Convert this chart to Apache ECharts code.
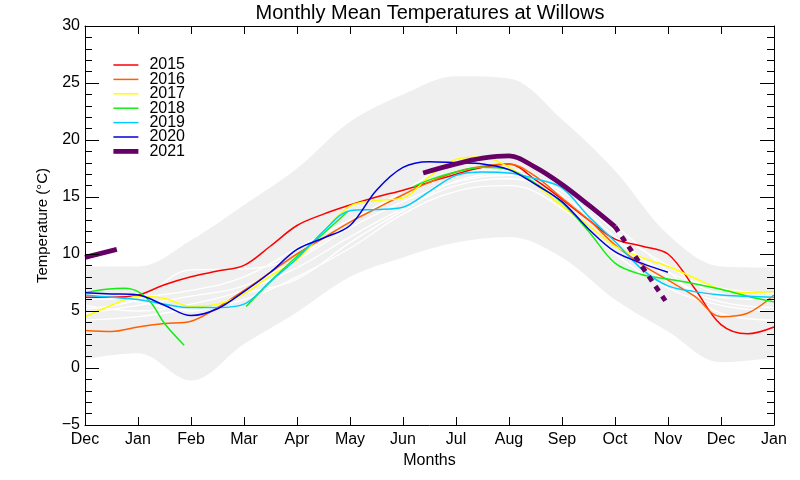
<!DOCTYPE html>
<html><head><meta charset="utf-8">
<script src="https://cdn.jsdelivr.net/npm/echarts@6/dist/echarts.min.js"></script>
<style>html,body{margin:0;padding:0;background:#fff}#c{width:800px;height:480px}</style>
</head><body><div id="c"></div>
<script>
// ---- data ----
const monthLabels = ['Dec','Jan','Feb','Mar','Apr','May','Jun','Jul','Aug','Sep','Oct','Nov','Dec','Jan'];
const tMonth = [0,1,2,3,4,5,6,7,8,9,10,11,12,13];
const tHalf = [0,0.5,1,1.5,2,2.5,3,3.5,4,4.5,5,5.5,6,6.5,7,7.5,8,8.5,9,9.5,10,10.5,11,11.5,12,12.5,13];
const yearNames = ['2015','2016','2017','2018','2019','2020','2021'];

const bandUpper = [8.9, 8.9, 11.2, 14.3, 17.5, 21.6, 24.0, 25.6, 25.4, 21.8, 17.3, 11.7, 8.9, 8.8];
const bandLower = [0.8, 1.3, -1.1, 2.1, 4.9, 8.0, 9.7, 11.0, 11.5, 9.7, 6.0, 3.2, 0.5, 0.9];

const white1 = [5.5, 5.0, 5.6, 6.8, 8.8, 11.5, 14.0, 16.0, 16.6, 14.8, 10.8, 7.6, 5.8, 5.3];
const white2 = [4.8, 5.5, 6.3, 7.2, 9.5, 12.3, 14.6, 16.3, 16.9, 15.5, 11.5, 8.0, 6.2, 6.0];
const white3 = [6.0, 6.2, 6.8, 8.0, 10.5, 13.0, 15.2, 17.0, 17.4, 15.2, 11.2, 8.4, 7.0, 6.5];
const white4 = [4.2, 4.5, 5.2, 6.0, 8.0, 10.5, 13.5, 15.5, 16.0, 14.0, 10.0, 7.0, 5.5, 5.0];
const white5 = [5.2, 6.0, 8.6, 8.7, 9.8, 12.8, 15.5, 18.0, 18.5, 16.2, 12.0, 9.0, 6.5, 6.2];
const white6 = [6.5, 5.8, 5.0, 6.5, 7.8, 11.0, 13.8, 16.4, 17.0, 15.8, 12.5, 8.5, 4.8, 4.2];

const v2015 = [6.2,6.2,6.4,7.3,8.0,8.5,9.0,10.7,12.5,13.5,14.3,15.0,15.6,16.3,17.0,17.6,17.9,16.5,14.8,13.0,11.3,10.7,10.0,7.0,3.8,3.0,3.6];
const v2016 = [3.3,3.2,3.6,3.9,4.1,5.3,6.8,8.4,10.0,11.4,12.8,14.0,15.2,16.3,17.2,17.7,17.9,16.8,14.9,13.0,10.8,9.1,7.7,6.3,4.5,4.8,6.4];
const v2017 = [4.5,5.5,6.3,6.1,5.4,5.6,6.5,8.1,9.5,12.0,14.2,14.7,14.9,16.8,18.3,18.5,17.6,16.1,14.2,12.5,10.7,9.7,8.9,7.9,6.9,6.6,6.7];
const t2018a = [0, 0.4, 0.75, 1.0, 1.25, 1.5, 1.87];
const v2018a = [6.6, 6.9, 7.0, 6.7, 5.7, 3.9, 2.0];
const t2018b = [3.04, 3.5, 4.0, 4.5, 4.95];
const v2018b = [5.4, 7.6, 9.8, 11.8, 13.7];
const t2018c = [6.2, 6.5, 7, 7.5, 8, 8.5, 9, 9.5, 10, 10.5, 11, 11.5, 12, 12.5, 13];
const v2018c = [15.9, 16.5, 17.2, 17.6, 17.4, 16.2, 14.5, 12.0, 9.2, 8.2, 7.8, 7.4, 6.9, 6.3, 5.8];
const v2019 = [6.4,6.2,6.0,5.6,5.3,5.3,5.6,7.6,9.6,12.0,13.8,13.9,14.1,15.5,16.9,17.2,17.1,16.6,15.8,13.3,11.1,8.7,7.2,6.7,6.4,6.3,6.2];
const t2020 = [0,0.5,1,1.5,2,2.5,3,3.5,4,4.5,5,5.5,6,6.5,7,7.5,8,8.5,9,9.5,10,10.5,11];
const v2020 = [6.6,6.5,6.4,5.5,4.6,5.2,6.7,8.4,10.4,11.4,12.5,15.6,17.6,18.1,18.0,17.9,17.4,16.1,14.6,12.2,10.2,9.2,8.4];
const t2021a = [0, 0.6];
const v2021a = [9.7, 10.4];
const t2021b = [6.38, 7, 7.5, 8, 8.5, 9, 9.5, 10];
const v2021b = [17.1, 17.9, 18.4, 18.6, 17.6, 16.1, 14.3, 12.4];
const t2021f = [10, 10.95];
const v2021f = [12.4, 5.9];

const colors = ['#ff0000','#ff6000','#ffff00','#11ee11','#00ccff','#0000dd','#660066'];

// ---- build ----
const pairs = (ts, vs) => ts.map((t, i) => [t, vs[i]]);
const joinSegs = (...segs) => {
  const out = [];
  segs.forEach((s, k) => { if (k > 0) out.push(['-', '-']); out.push(...s); });
  return out;
};
const FONT = 'Liberation Sans, Arial, Helvetica, sans-serif';

const series = [];
series.push({ name: 'bandUp', type: 'line', smooth: 0.35, symbol: 'none', silent: true,
  lineStyle: { opacity: 0 }, areaStyle: { color: '#efefef', opacity: 1, origin: 'start' },
  data: pairs(tMonth, bandUpper), z: 1 });
series.push({ name: 'bandLow', type: 'line', smooth: 0.35, symbol: 'none', silent: true,
  lineStyle: { opacity: 0 }, areaStyle: { color: '#ffffff', opacity: 1, origin: 'start' },
  data: pairs(tMonth, bandLower), z: 1 });
[white1, white2, white3, white4, white5, white6].forEach((w, i) => {
  series.push({ name: 'w' + i, type: 'line', smooth: 0.4, symbol: 'none', silent: true,
    lineStyle: { color: '#ffffff', width: 1.3 }, data: pairs(tMonth, w), z: 2 });
});
const yearData = [
  pairs(tHalf, v2015),
  pairs(tHalf, v2016),
  pairs(tHalf, v2017),
  joinSegs(pairs(t2018a, v2018a), pairs(t2018b, v2018b), pairs(t2018c, v2018c)),
  pairs(tHalf, v2019),
  pairs(t2020, v2020),
  joinSegs(pairs(t2021a, v2021a), pairs(t2021b, v2021b))
];
yearNames.forEach((n, i) => {
  series.push({ name: n, type: 'line', smooth: 0.35, symbol: 'none', connectNulls: false,
    lineStyle: { color: colors[i], width: i === 6 ? 4.8 : 1.5 }, itemStyle: { color: colors[i] },
    data: yearData[i], z: 3 });
});
series.push({ name: '2021 forecast', type: 'line', symbol: 'none', silent: true,
  lineStyle: { color: colors[6], width: 4.8, type: [6, 6] }, data: pairs(t2021f, v2021f), z: 3 });

const xBase = {
  type: 'value', min: 0, max: 13, interval: 1, z: 10,
  axisLine: { show: true, onZero: false, lineStyle: { color: '#000', width: 1 } },
  axisTick: { show: true, inside: true, length: 8, lineStyle: { color: '#000' } },
  splitLine: { show: false }
};
const yBase = {
  type: 'value', min: -5, max: 30, interval: 5, z: 10,
  axisLine: { show: true, onZero: false, lineStyle: { color: '#000', width: 1 } },
  axisTick: { show: true, inside: true, length: 14, lineStyle: { color: '#000' } },
  minorTick: { show: true, splitNumber: 5, length: 7, lineStyle: { color: '#000' } },
  splitLine: { show: false }, minorSplitLine: { show: false }
};

const option = {
  animation: false,
  backgroundColor: '#fff',
  title: { text: 'Monthly Mean Temperatures at Willows', left: 425, textAlign: 'center', top: -2,
    textStyle: { fontFamily: FONT, fontSize: 20, fontWeight: 'normal', color: '#000' } },
  legend: {
    data: yearNames, orient: 'vertical', left: 111, top: 57, padding: 0,
    itemWidth: 25, itemHeight: 14, itemGap: -1.6,
    itemStyle: { opacity: 0 },
    lineStyle: { width: 'inherit' },
    textStyle: { fontFamily: FONT, fontSize: 16, color: '#000', lineHeight: 14, padding: [0, 0, 0, 6] }
  },
  grid: { left: 85, right: 26, top: 26, bottom: 55, containLabel: false },
  xAxis: [
    Object.assign({}, xBase, { position: 'bottom',
      axisLabel: { show: true, margin: 7, color: '#000', fontFamily: FONT, fontSize: 16,
        formatter: v => monthLabels[Math.round(v)] },
      name: 'Months', nameLocation: 'middle', nameGap: 27,
      nameTextStyle: { fontFamily: FONT, fontSize: 16, color: '#000' } }),
    Object.assign({}, xBase, { position: 'top', axisLabel: { show: false } })
  ],
  yAxis: [
    Object.assign({}, yBase, { position: 'left',
      axisLabel: { show: true, margin: 5, color: '#000', fontFamily: FONT, fontSize: 16,
        formatter: v => String(v).replace('-', '\u2212') },
      name: 'Temperature (\u00B0C)', nameLocation: 'middle', nameGap: 34, nameRotate: 90,
      nameTextStyle: { fontFamily: FONT, fontSize: 15, color: '#000' } }),
    Object.assign({}, yBase, { position: 'right', axisLabel: { show: false } })
  ],
  series: series
};
const chart = echarts.init(document.getElementById('c'), null, { renderer: 'canvas' });
chart.setOption(option);
</script>
</body></html>
